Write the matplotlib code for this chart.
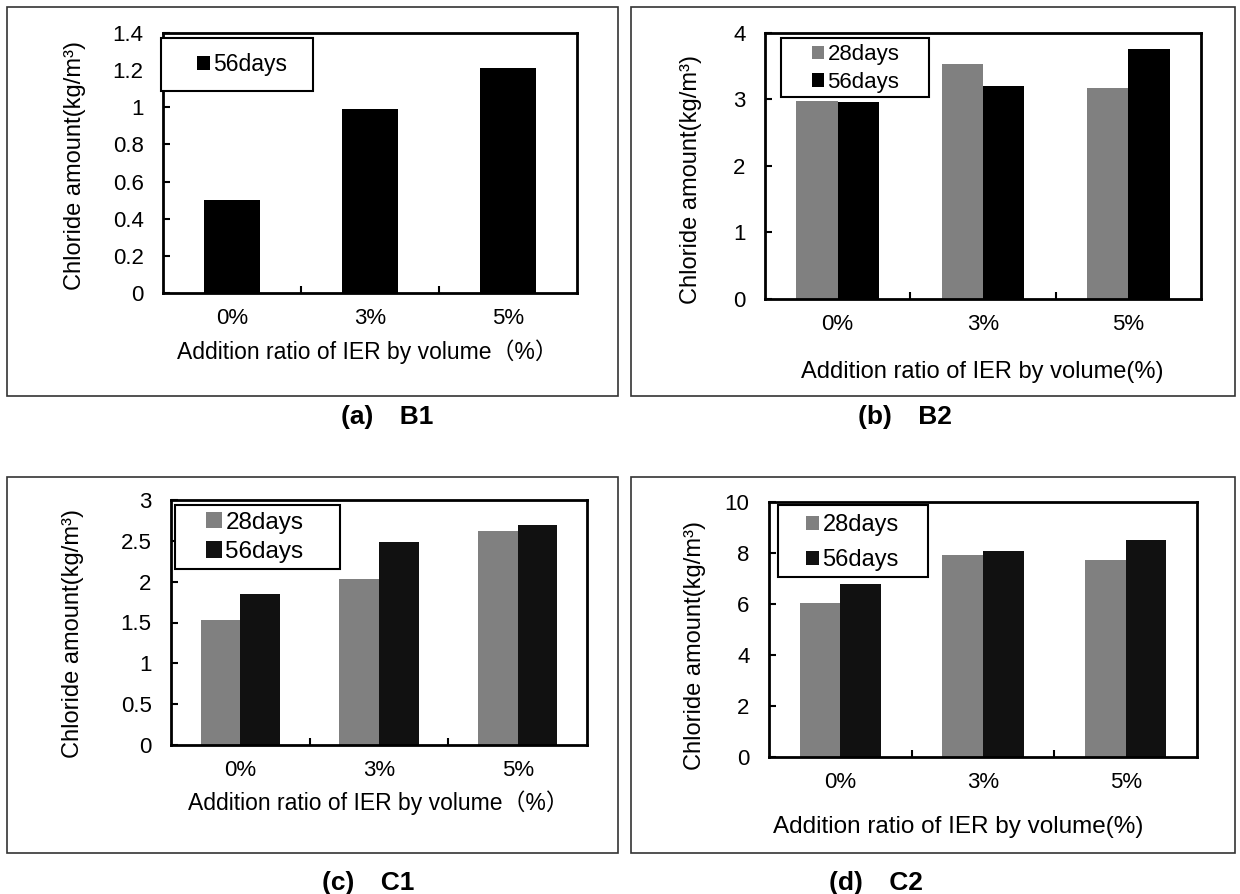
import matplotlib
matplotlib.use('Agg')
import matplotlib.pyplot as plt
from matplotlib.patches import Rectangle
from matplotlib.ticker import FixedLocator, FuncFormatter, NullFormatter
from matplotlib import font_manager
import numpy as np

# ---------------- data ----------------
categories = ['0%', '3%', '5%']
series_labels = ['28days', '56days']

b1_56 = [0.50, 0.99, 1.21]
b2_28 = [2.97, 3.53, 3.17]
b2_56 = [2.96, 3.20, 3.76]
c1_28 = [1.53, 2.03, 2.62]
c1_56 = [1.85, 2.49, 2.70]
c2_28 = [6.05, 7.91, 7.71]
c2_56 = [6.77, 8.08, 8.50]

yticks_a = [0, 0.2, 0.4, 0.6, 0.8, 1.0, 1.2, 1.4]
yticks_b = [0, 1, 2, 3, 4]
yticks_c = [0, 0.5, 1.0, 1.5, 2.0, 2.5, 3.0]
yticks_d = [0, 2, 4, 6, 8, 10]

ylabel_text = 'Chloride amount(kg/m\u00b3)'
xlabel_wide = 'Addition ratio of IER by volume\uff08%\uff09'
xlabel_narrow = 'Addition ratio of IER by volume(%)'
captions = ['(a)\u3000B1', '(b)\u3000B2', '(c)\u3000C1', '(d)\u3000C2']

# ---------------- style ----------------
W, H = 1240, 894
GRAY = '#808080'
BLACK = '#000000'
BLACK2 = '#111111'

installed = {f.name for f in font_manager.fontManager.ttflist}
narrow = 'Liberation Sans Narrow' if 'Liberation Sans Narrow' in installed else 'Liberation Sans'
TICKFONT = [narrow, 'DejaVu Sans']
LABFONT = ['Liberation Sans', 'Noto Sans CJK JP', 'DejaVu Sans']

plt.rcParams['font.family'] = LABFONT

fig = plt.figure(figsize=(W / 100, H / 100), dpi=100)


def fx(x):
    return x / W


def fy(y):
    return 1 - y / H


def fig_box(l, t, r, b):
    return [l / W, 1 - b / H, (r - l) / W, (b - t) / H]


def frame(l, t, r, b, lw=1.2, color='#333333'):
    fig.patches.append(Rectangle((fx(l), fy(b)), (r - l) / W, (b - t) / H,
                                 transform=fig.transFigure, fill=False,
                                 edgecolor=color, linewidth=lw))


panels = [
    dict(frame=(7, 7, 618, 396), axes=(163, 33, 577, 293), yticks=yticks_a,
         series=[(series_labels[1], b1_56, BLACK)], width=0.40,
         xlabel=xlabel_wide, xlfs=16.5, xlab_xy=(367, 352), ylab_xy=(75, 166),
         legbox=(161, 38, 313, 91), leg_anchor=(197, 65), legfs=16.5, legspace=0.3,
         handle=0.55, cap=captions[0], cap_xy=(387, 417)),
    dict(frame=(631, 7, 1235, 396), axes=(765, 33, 1201, 299), yticks=yticks_b,
         series=[(series_labels[0], b2_28, GRAY), (series_labels[1], b2_56, BLACK)], width=0.285,
         xlabel=xlabel_narrow, xlfs=17, xlab_xy=(982, 372), ylab_xy=(691, 179),
         legbox=(781, 38, 929, 97), leg_anchor=(812, 68.5), legfs=16, legspace=0.3,
         handle=0.55, cap=captions[1], cap_xy=(905, 417)),
    dict(frame=(7, 477, 618, 853), axes=(171, 500, 587, 745), yticks=yticks_c,
         series=[(series_labels[0], c1_28, GRAY), (series_labels[1], c1_56, BLACK2)], width=0.285,
         xlabel=xlabel_wide, xlfs=16.5, xlab_xy=(378, 803), ylab_xy=(73, 634),
         legbox=(175, 505, 340, 569), leg_anchor=(206, 537.5), legfs=17.5, legspace=0.3,
         handle=0.65, cap=captions[2], cap_xy=(368, 883)),
    dict(frame=(631, 477, 1235, 853), axes=(769, 502, 1197, 757), yticks=yticks_d,
         series=[(series_labels[0], c2_28, GRAY), (series_labels[1], c2_56, BLACK2)], width=0.285,
         xlabel=xlabel_narrow, xlfs=17.5, xlab_xy=(958, 827), ylab_xy=(695, 646),
         legbox=(778, 505, 928, 577), leg_anchor=(806, 542.5), legfs=17, legspace=0.55,
         handle=0.55, cap=captions[3], cap_xy=(876, 883)),
]

x = np.arange(len(categories))

for p in panels:
    frame(*p['frame'])
    l, t, r, b = p['axes']
    ax = fig.add_axes(fig_box(l, t, r, b))
    n = len(p['series'])
    w = p['width']
    handles = []
    for i, (lab, vals, col) in enumerate(p['series']):
        off = (i - (n - 1) / 2) * w
        bc = ax.bar(x + off, vals, width=w, color=col, edgecolor='none', label=lab, zorder=2)
        handles.append(bc)
    ax.set_xlim(-0.5, len(categories) - 0.5)
    yt = p['yticks']
    ax.set_ylim(yt[0], yt[-1])
    ax.yaxis.set_major_locator(FixedLocator(yt))
    ax.yaxis.set_major_formatter(FuncFormatter(lambda v, pos: '%g' % v))
    ax.set_xticks(x)
    ax.set_xticklabels(categories)
    ax.xaxis.set_minor_locator(FixedLocator([0.5, 1.5]))
    ax.xaxis.set_minor_formatter(NullFormatter())
    ax.tick_params(axis='x', which='major', length=0, pad=11)
    ax.tick_params(axis='x', which='minor', direction='in', length=5, width=1.5)
    ax.tick_params(axis='y', which='major', direction='in', length=5, width=1.5, pad=14)
    for lab in ax.get_xticklabels() + ax.get_yticklabels():
        lab.set_family(TICKFONT)
        lab.set_fontsize(16)
    for s in ax.spines.values():
        s.set_linewidth(2.0)
        s.set_color('black')

    # axis labels
    ax.set_ylabel(ylabel_text, fontsize=17, va='center', ha='center')
    ylx, yly = p['ylab_xy']
    ax.yaxis.set_label_coords((ylx - l) / (r - l), (b - yly) / (b - t))
    ax.set_xlabel(p['xlabel'], fontsize=p['xlfs'], va='center', ha='center')
    xlx, xly = p['xlab_xy']
    ax.xaxis.set_label_coords((xlx - l) / (r - l), (b - xly) / (b - t))

    # legend box + entries
    bl, bt, br, bb = p['legbox']
    box = Rectangle((fx(bl), fy(bb)), (br - bl) / W, (bb - bt) / H,
                    transform=fig.transFigure, facecolor='white',
                    edgecolor='black', linewidth=1.5, zorder=5, clip_on=False)
    ax.add_patch(box)
    ax_x, ax_y = p['leg_anchor']
    leg = ax.legend(handles=handles, loc='center left',
                    bbox_to_anchor=(fx(ax_x), fy(ax_y)), bbox_transform=fig.transFigure,
                    frameon=False, borderpad=0, borderaxespad=0,
                    handlelength=p['handle'], handleheight=p['handle'], handletextpad=0.15,
                    labelspacing=p['legspace'], prop={'size': p['legfs'], 'family': LABFONT})
    leg.set_zorder(6)

    # caption
    cx, cy = p['cap_xy']
    fig.text(fx(cx), fy(cy), p['cap'], ha='center', va='center', fontsize=19,
             fontweight='bold', family=['Liberation Sans', 'Noto Sans CJK JP'])

fig.savefig('out.png', dpi=100, facecolor='white')
